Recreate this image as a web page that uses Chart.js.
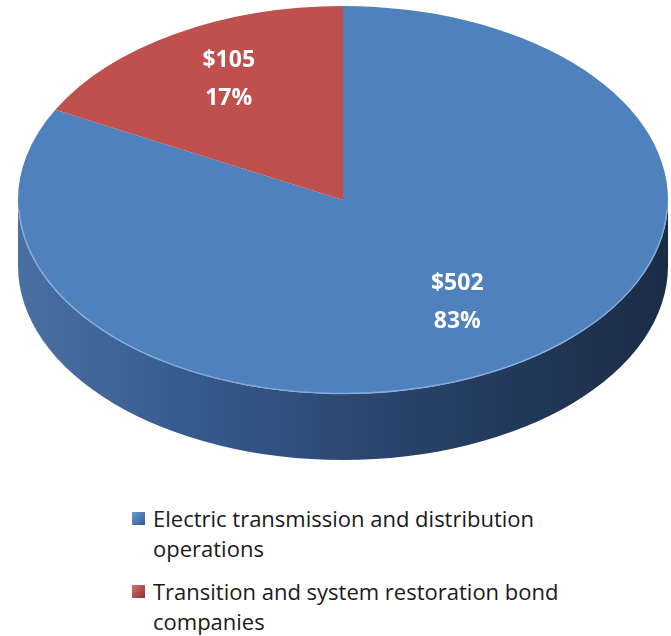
<!DOCTYPE html>
<html>
<head>
<meta charset="utf-8">
<script src="https://cdn.jsdelivr.net/npm/chart.js@4.4.1/dist/chart.umd.min.js"></script>
<style>
  html, body { margin: 0; padding: 0; background: #fff; }
  #wrap { position: relative; width: 671px; height: 636px; overflow: hidden; }
  #pie { position: absolute; left: 0; top: 0; }
  #legend { position: absolute; left: 132px; top: 503px; font-family: "Open Sans", sans-serif; font-size: 22px; color: #1a1a1a; }
  .item { display: flex; align-items: flex-start; margin-bottom: 13px; }
  .box { width: 13px; height: 13px; margin: 9px 8px 0 0; flex: none; }
  .txt { line-height: 30px; }
</style>
</head>
<body>
<div id="wrap">
  <canvas id="pie" width="671" height="480"></canvas>
  <div id="legend"></div>
</div>
<script>
var categories = [
    ['Electric transmission and distribution', 'operations'],
    ['Transition and system restoration bond', 'companies']
];
var values = [502, 105];
var colors = ['#4f81bd', '#c0504d'];
var boxColors = [['#6f9bd4', '#2f5b92'], ['#d8706c', '#8e2f2c']];

// where the tilted top face sits on the page
var face = { cx: 343, cy: 200, rx: 325, ry: 194, depth: 66 };

var tiltPlugin = {
    id: 'tilt',
    beforeDatasetsDraw: function(chart) {
        var ctx = chart.ctx;
        var arc = chart.getDatasetMeta(0).data[0];
        if (!arc) return;
        var R = arc.outerRadius;

        // side wall of the disc (front half)
        ctx.save();
        var g = ctx.createLinearGradient(face.cx - face.rx, 0, face.cx + face.rx, 0);
        g.addColorStop(0, '#4a70a3');
        g.addColorStop(0.3, '#35588a');
        g.addColorStop(0.65, '#263f63');
        g.addColorStop(1, '#1b2c46');
        ctx.beginPath();
        ctx.ellipse(face.cx, face.cy, face.rx, face.ry, 0, 0, Math.PI, false);
        ctx.lineTo(face.cx - face.rx, face.cy + face.depth);
        ctx.ellipse(face.cx, face.cy + face.depth, face.rx, face.ry, 0, Math.PI, 0, true);
        ctx.closePath();
        ctx.fillStyle = g;
        ctx.fill();
        ctx.restore();

        // squash the flat pie into the ellipse
        ctx.save();
        ctx.translate(face.cx, face.cy);
        ctx.scale(face.rx / R, face.ry / R);
        ctx.translate(-arc.x, -arc.y);
    },
    afterDatasetsDraw: function(chart) {
        var ctx = chart.ctx;
        ctx.restore();

        // light rim along the front edge
        ctx.save();
        ctx.beginPath();
        ctx.ellipse(face.cx, face.cy, face.rx - 0.5, face.ry - 0.5, 0, 0.05, Math.PI - 0.05, false);
        ctx.strokeStyle = 'rgba(150,185,230,0.7)';
        ctx.lineWidth = 1.5;
        ctx.stroke();
        ctx.restore();

        // value / percent labels
        var total = values.reduce(function(a, b) { return a + b; }, 0);
        ctx.save();
        ctx.fillStyle = '#ffffff';
        ctx.font = 'bold 23px "Open Sans", sans-serif';
        ctx.textAlign = 'center';
        ctx.textBaseline = 'middle';
        chart.getDatasetMeta(0).data.forEach(function(el, i) {
            var mid = (el.startAngle + el.endAngle) / 2;
            var x = face.cx + Math.cos(mid) * face.rx * 0.68;
            var y = face.cy - 9 + Math.sin(mid) * face.ry * 0.67;
            ctx.fillText('$' + values[i], x, y - 19);
            ctx.fillText(Math.round(values[i] / total * 100) + '%', x, y + 19);
        });
        ctx.restore();
    }
};

var pie = document.getElementById('pie');
var pieChart = new Chart(pie, {
    type: 'pie',
    data: {
        labels: categories,
        datasets: [{
            data: values,
            backgroundColor: colors,
            borderWidth: 0,
            clip: false
        }]
    },
    options: {
        responsive: false,
        animation: false,
        events: [],
        plugins: {
            legend: { display: false },
            tooltip: { enabled: false }
        }
    },
    plugins: [tiltPlugin]
});

var legend = document.getElementById('legend');
pieChart.data.labels.forEach(function(lines, i) {
    var item = document.createElement('div');
    item.className = 'item';
    var box = document.createElement('div');
    box.className = 'box';
    box.style.background = 'linear-gradient(135deg, ' + boxColors[i][0] + ', ' + boxColors[i][1] + ')';
    var txt = document.createElement('div');
    txt.className = 'txt';
    txt.innerHTML = lines.join('<br>');
    item.appendChild(box);
    item.appendChild(txt);
    legend.appendChild(item);
});
</script>
</body>
</html>
